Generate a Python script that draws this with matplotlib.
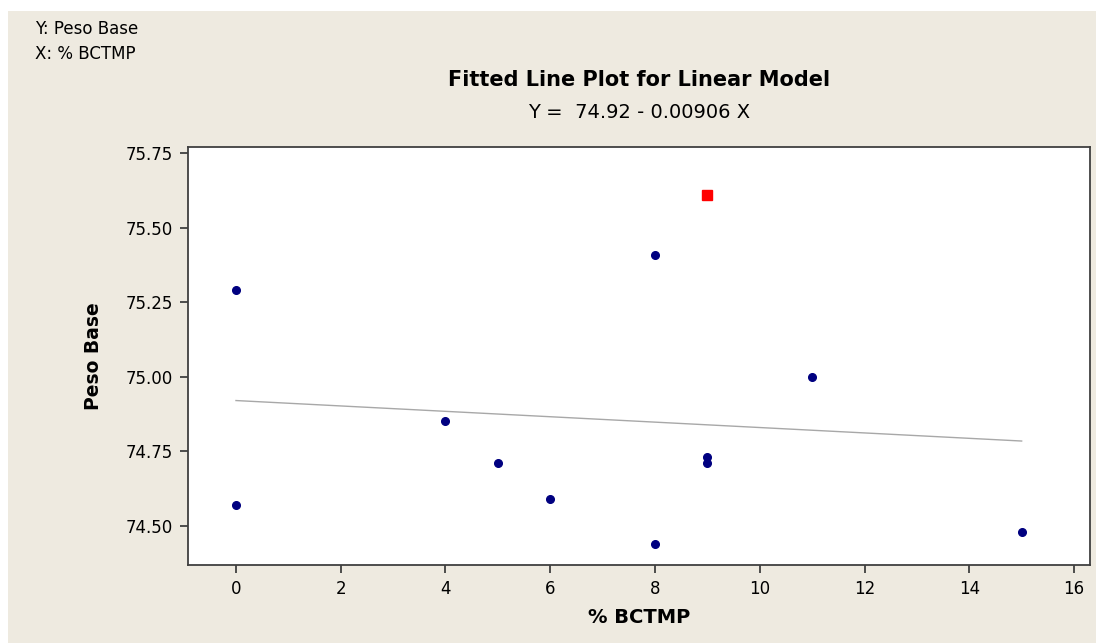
import numpy as np
import matplotlib
matplotlib.use("Agg")
from matplotlib import pyplot
from matplotlib.patches import Rectangle

# % BCTMP vs Peso Base
bctmp = [0, 0, 4, 5, 6, 8, 8, 9, 9, 11, 15]
peso = [75.29, 74.57, 74.85, 74.71, 74.59, 75.41, 74.44, 74.73, 74.71, 75.00, 74.48]

# highlighted point (red square)
out_x = [9]
out_y = [75.61]

intercept = 74.92
slope = -0.00906
fit_range = [0, 15]

xticks = [0, 2, 4, 6, 8, 10, 12, 14, 16]
yticks = [74.50, 74.75, 75.00, 75.25, 75.50, 75.75]

if __name__ == '__main__':
    pyplot.rcParams['font.family'] = 'DejaVu Sans'
    bg = '#eeeae0'

    fig = pyplot.figure(figsize=(10.96, 6.43), dpi=100)
    fig.patch.set_facecolor('white')
    fig.patches.append(Rectangle((8 / 1096, 0), 1 - 8 / 1096, 1 - 11 / 643,
                                 transform=fig.transFigure, facecolor=bg,
                                 edgecolor='none', zorder=-10))

    ax = fig.add_axes([188 / 1096, 1 - 565 / 643, (1090 - 188) / 1096, (565 - 147) / 643])
    ax.set_facecolor('white')

    xf = np.array(fit_range, dtype=float)
    ax.plot(xf, intercept + slope * xf, color='#a8a8a8', lw=1.0, zorder=1)
    ax.plot(bctmp, peso, 'o', color='#000080', ms=5.5, zorder=2)
    ax.plot(out_x, out_y, 's', color='#ff0000', ms=6.5, zorder=3)

    ax.set_xlim(-0.916, 16.305)
    ax.set_ylim(74.368, 75.771)
    ax.set_xticks(xticks)
    ax.set_yticks(yticks)
    ax.set_yticklabels(['%.2f' % v for v in yticks])

    for s in ax.spines.values():
        s.set_color('#404040')
        s.set_linewidth(1.3)
    ax.tick_params(direction='out', length=6, width=1.3, color='#404040',
                   labelsize=12, pad=5)

    ax.set_xlabel('% BCTMP', fontsize=14, fontweight='bold', labelpad=7)
    ax.set_ylabel('Peso Base', fontsize=13.5, fontweight='bold', labelpad=16)

    fig.text(639 / 1096, 1 - 80 / 643, 'Fitted Line Plot for Linear Model',
             ha='center', va='center', fontsize=15, fontweight='bold')
    fig.text(639 / 1096, 1 - 112 / 643, 'Y =  74.92 - 0.00906 X',
             ha='center', va='center', fontsize=14)

    fig.text(35 / 1096, 1 - 29 / 643, 'Y: Peso Base', ha='left', va='center', fontsize=12)
    fig.text(35 / 1096, 1 - 54 / 643, 'X: % BCTMP', ha='left', va='center', fontsize=12)

    fig.savefig('out.png', dpi=100, facecolor=fig.get_facecolor())
